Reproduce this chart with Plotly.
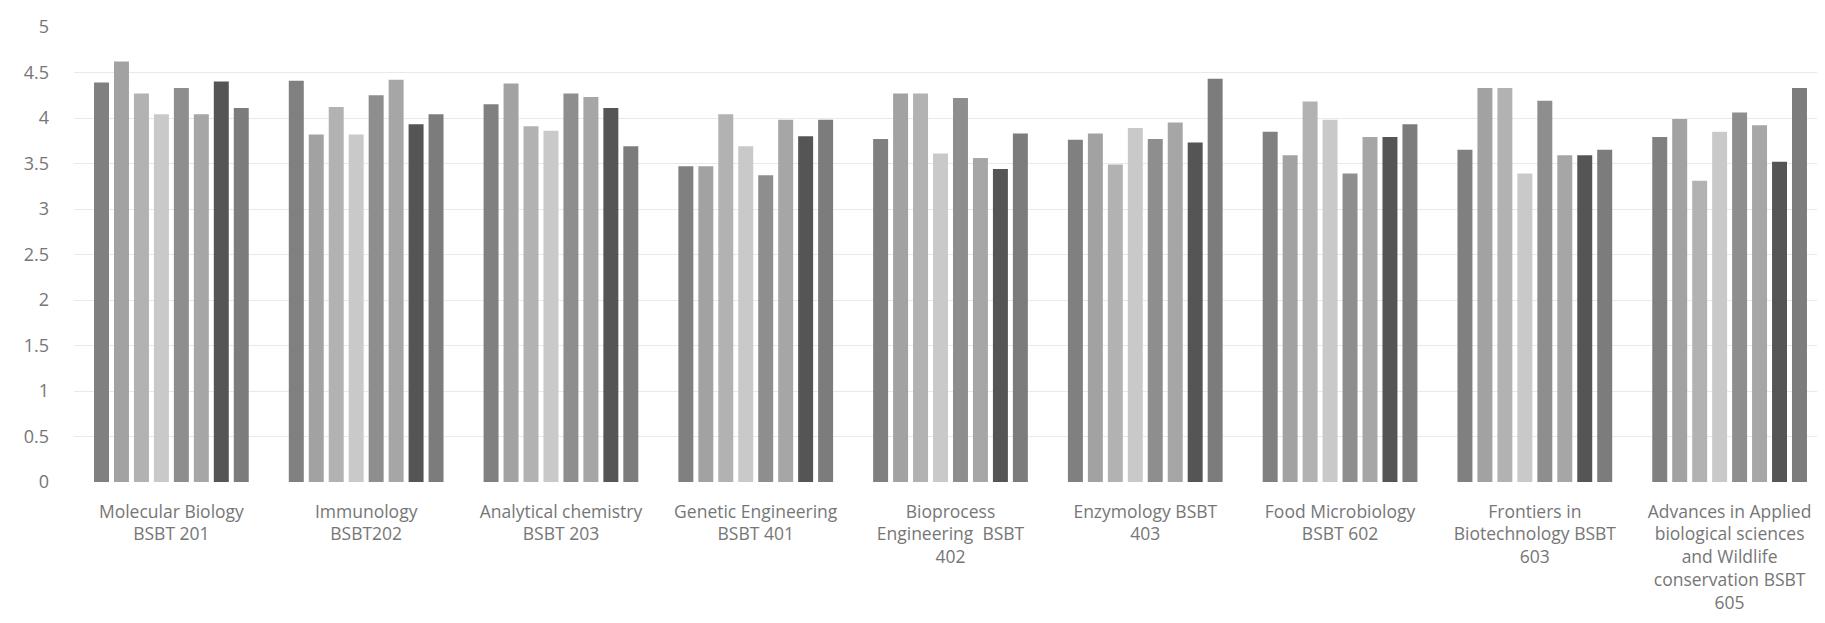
import plotly.graph_objects as go

categories = [
    "Molecular Biology<br>BSBT 201",
    "Immunology<br>BSBT202",
    "Analytical chemistry<br>BSBT 203",
    "Genetic Engineering<br>BSBT 401",
    "Bioprocess<br>Engineering  BSBT<br>402",
    "Enzymology BSBT<br>403",
    "Food Microbiology<br>BSBT 602",
    "Frontiers in<br>Biotechnology BSBT<br>603",
    "Advances in Applied<br>biological sciences<br>and Wildlife<br>conservation BSBT<br>605",
]

s1 = [4.39, 4.41, 4.15, 3.47, 3.77, 3.76, 3.85, 3.65, 3.79]
s2 = [4.62, 3.82, 4.38, 3.47, 4.27, 3.83, 3.59, 4.33, 3.99]
s3 = [4.27, 4.12, 3.91, 4.04, 4.27, 3.49, 4.18, 4.33, 3.31]
s4 = [4.04, 3.82, 3.86, 3.69, 3.61, 3.89, 3.98, 3.39, 3.85]
s5 = [4.33, 4.25, 4.27, 3.37, 4.22, 3.77, 3.39, 4.19, 4.06]
s6 = [4.04, 4.42, 4.23, 3.98, 3.56, 3.95, 3.79, 3.59, 3.92]
s7 = [4.40, 3.93, 4.11, 3.80, 3.44, 3.73, 3.79, 3.59, 3.52]
s8 = [4.11, 4.04, 3.69, 3.98, 3.83, 4.43, 3.93, 3.65, 4.33]

series = [s1, s2, s3, s4, s5, s6, s7, s8]
series_names = ["Series 1", "Series 2", "Series 3", "Series 4",
                "Series 5", "Series 6", "Series 7", "Series 8"]
colors = ["#808080", "#a2a2a2", "#b2b2b2", "#c9c9c9",
          "#8e8e8e", "#a6a6a6", "#555555", "#7c7c7c"]

fig = go.Figure()
for name, vals, col in zip(series_names, series, colors):
    fig.add_trace(go.Bar(x=categories, y=vals, name=name,
                         marker=dict(color=col, line=dict(width=0))))

fig.update_layout(
    width=1825, height=623,
    margin=dict(l=66, r=6, t=19, b=149),
    paper_bgcolor="white", plot_bgcolor="white",
    barmode="group", bargap=0.18, bargroupgap=0.25,
    showlegend=False,
    font=dict(family="Open Sans", size=17.5, color="#767676"),
)
fig.update_yaxes(range=[0, 5], dtick=0.5, showgrid=True, gridcolor="#e9e9e9",
                 gridwidth=1, zeroline=False, showline=False,
                 ticklabelstandoff=24, tickfont=dict(size=18, color="#767676"))
fig.update_xaxes(showline=False, showgrid=False, ticks="", tickangle=0,
                 automargin=False,
                 ticklabelstandoff=17, tickfont=dict(size=17.5, color="#767676"))

fig.write_html("out.html")
